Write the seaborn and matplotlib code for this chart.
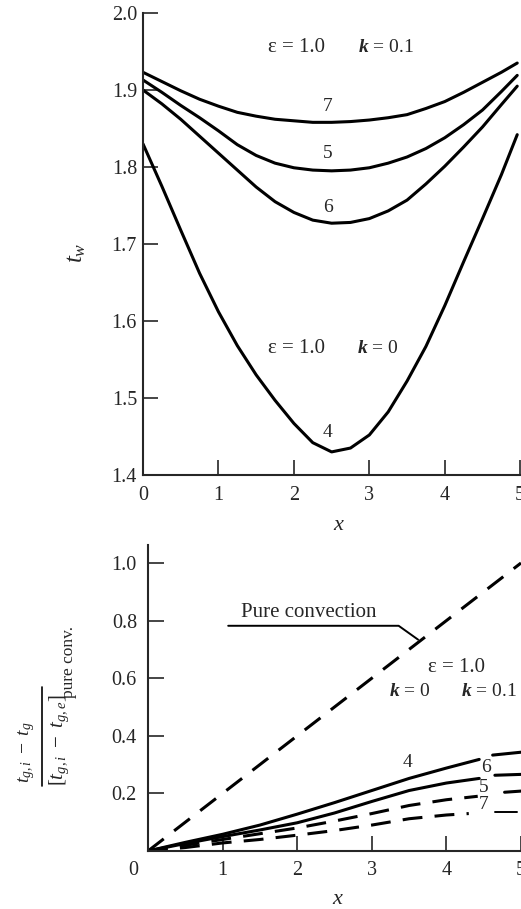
import matplotlib
matplotlib.use("Agg")
import matplotlib.pyplot as plt
import matplotlib.transforms as mtransforms
from matplotlib.lines import Line2D
import seaborn as sns
import pandas as pd

# ---------------- data ----------------
# top panel: wall temperature t_w vs x
x_top = [0, 0.25, 0.5, 0.75, 1.0, 1.25, 1.5, 1.75, 2.0, 2.25, 2.5, 2.75,
         3.0, 3.25, 3.5, 3.75, 4.0, 4.25, 4.5, 4.75, 4.96]
tw_curve4 = [1.830, 1.775, 1.718, 1.662, 1.612, 1.568, 1.530, 1.497, 1.467, 1.442, 1.430, 1.435,
             1.452, 1.482, 1.522, 1.567, 1.620, 1.677, 1.733, 1.790, 1.842]
tw_curve6 = [1.900, 1.882, 1.862, 1.840, 1.818, 1.796, 1.774, 1.755, 1.741, 1.731, 1.727, 1.728,
             1.733, 1.743, 1.757, 1.778, 1.801, 1.826, 1.852, 1.881, 1.905]
tw_curve5 = [1.913, 1.897, 1.880, 1.864, 1.847, 1.829, 1.815, 1.805, 1.799, 1.796, 1.795, 1.796,
             1.799, 1.805, 1.813, 1.824, 1.838, 1.855, 1.874, 1.898, 1.919]
tw_curve7 = [1.923, 1.911, 1.899, 1.888, 1.879, 1.871, 1.866, 1.862, 1.860, 1.858, 1.858, 1.859,
             1.861, 1.864, 1.868, 1.876, 1.885, 1.897, 1.910, 1.923, 1.935]
top_yticks = [1.4, 1.5, 1.6, 1.7, 1.8, 1.9, 2.0]
top_ylabels = ["1.4", "1.5", "1.6", "1.7", "1.8", "1.9", "2.0"]
x_ticks = [0, 1, 2, 3, 4, 5]
x_ticklabels = ["0", "1", "2", "3", "4", "5"]

# bottom panel: normalised gas temperature vs x
pure_x = [0, 5]
pure_y = [0.0, 1.0]
x_bot_solid = [0, 0.5, 1, 1.5, 2, 2.5, 3, 3.5, 4, 4.44]
r_solid4 = [0, 0.030, 0.058, 0.090, 0.128, 0.168, 0.210, 0.252, 0.288, 0.318]
r_solid5 = [0, 0.026, 0.050, 0.073, 0.098, 0.132, 0.172, 0.210, 0.236, 0.252]
x_bot_dash_a = [0, 0.5, 1, 1.5, 2, 2.5, 3, 3.5, 4, 4.42]
r_dash_upper = [0, 0.020, 0.040, 0.060, 0.080, 0.104, 0.130, 0.158, 0.178, 0.190]
x_bot_dash_b = [0, 0.5, 1, 1.5, 2, 2.5, 3, 3.5, 4, 4.3]
r_dash_lower = [0, 0.012, 0.028, 0.040, 0.055, 0.071, 0.090, 0.112, 0.125, 0.130]
# short right-hand pieces (k = 0.1)
seg6_x, seg6_y = [4.62, 5.0], [0.333, 0.343]
seg5_x, seg5_y = [4.65, 5.0], [0.263, 0.266]
seg7a_x, seg7a_y = [4.78, 5.0], [0.204, 0.208]
seg7b_x, seg7b_y = [4.65, 4.95], [0.135, 0.135]
bot_yticks = [0.2, 0.4, 0.6, 0.8, 1.0]
bot_ylabels = ["0.2", "0.4", "0.6", "0.8", "1.0"]
leader_x = [1.075, 3.36, 3.62]
leader_y = [0.782, 0.782, 0.734]

# ---------------- style ----------------
sns.set_theme(style="ticks")
plt.rcParams["font.family"] = ["Liberation Serif", "DejaVu Serif"]
plt.rcParams["mathtext.fontset"] = "custom"
plt.rcParams["mathtext.rm"] = "Liberation Serif"
plt.rcParams["mathtext.it"] = "Liberation Serif:italic"
plt.rcParams["mathtext.bf"] = "Liberation Serif:bold:italic"
plt.rcParams["axes.linewidth"] = 1.5

W, H = 521, 909
fig = plt.figure(figsize=(W / 100, H / 100), dpi=100)
fig.patch.set_facecolor("white")

ax1 = fig.add_axes([143 / W, 1 - 475 / H, (W - 143) / W, 462 / H])
ax2 = fig.add_axes([148 / W, 1 - 851 / H, (W - 148) / W, 306 / H])

LW = 2.2
TICKFS = 14.5

# ---------------- top panel ----------------
n = len(x_top)
top_df = pd.DataFrame({"x": x_top * 4,
                       "tw": tw_curve4 + tw_curve6 + tw_curve5 + tw_curve7,
                       "curve": ["4"] * n + ["6"] * n + ["5"] * n + ["7"] * n})
sns.lineplot(data=top_df, x="x", y="tw", units="curve", estimator=None,
             color="black", lw=LW, sort=False, ax=ax1)
ax1.set_xlim(0, 5.01)
ax1.set_ylim(1.4, 2.0)
ax1.set_yticks(top_yticks)
ax1.set_yticklabels(top_ylabels)
ax1.set_xticks(x_ticks)
ax1.set_xticklabels(x_ticklabels)
ax1.tick_params(axis="y", direction="in", length=11, width=1.2, labelsize=TICKFS, pad=4.3)
ax1.tick_params(axis="x", direction="in", length=11, width=1.2, labelsize=TICKFS, pad=8)
sns.despine(ax=ax1)
ax1.set_xlabel("$x$", fontsize=16)
ax1.xaxis.set_label_coords((339 - 143) / (W - 143), (475 - 525) / 462)
ax1.xaxis.label.set_va("center")
ax1.set_ylabel("$t_w$", fontsize=18)
ax1.yaxis.set_label_coords((77 - 143) / (W - 143), (475 - 253) / 462)
ax1.yaxis.label.set_va("center")

TXT = 14
EPS = 15
ax1.text(1.66, 1.955, "ε = 1.0", fontsize=EPS, va="center", ha="left")
ax1.text(2.85, 1.955, r"$\mathbf{k}$ = 0.1", fontsize=TXT, va="center", ha="left")
ax1.text(1.66, 1.564, "ε = 1.0", fontsize=EPS, va="center", ha="left")
ax1.text(2.84, 1.564, r"$\mathbf{k}$ = 0", fontsize=TXT, va="center", ha="left")
for lab, yy in [("7", 1.878), ("5", 1.818), ("6", 1.748), ("4", 1.455)]:
    ax1.text(2.45, yy, lab, fontsize=TXT, va="center", ha="center")

# ---------------- bottom panel ----------------
dash_long = (0, (6.5, 4.3))
sns.lineplot(x=pure_x, y=pure_y, color="black", lw=LW, ax=ax2, linestyle=dash_long)
sns.lineplot(x=x_bot_solid, y=r_solid4, color="black", lw=LW, ax=ax2)
sns.lineplot(x=x_bot_solid, y=r_solid5, color="black", lw=LW, ax=ax2)
sns.lineplot(x=x_bot_dash_a, y=r_dash_upper, color="black", lw=LW, ax=ax2, linestyle=(0, (6.5, 4.0)))
sns.lineplot(x=x_bot_dash_b, y=r_dash_lower, color="black", lw=LW, ax=ax2, linestyle=(0, (6.5, 4.0)))
sns.lineplot(x=seg6_x, y=seg6_y, color="black", lw=LW, ax=ax2)
sns.lineplot(x=seg5_x, y=seg5_y, color="black", lw=LW, ax=ax2)
sns.lineplot(x=seg7a_x, y=seg7a_y, color="black", lw=LW, ax=ax2)
sns.lineplot(x=seg7b_x, y=seg7b_y, color="black", lw=1.4, ax=ax2)
ax2.plot(leader_x, leader_y, color="black", lw=1.4)

ax2.set_xlim(0, 5.0)
ax2.set_ylim(0, 1.0625)
ax2.set_yticks(bot_yticks)
ax2.set_yticklabels(bot_ylabels)
ax2.set_xticks(x_ticks)
ax2.set_xticklabels(x_ticklabels)
ax2.tick_params(axis="y", direction="in", length=11.5, width=1.2, labelsize=TICKFS, pad=8)
ax2.tick_params(axis="x", direction="in", length=11, width=1.2, labelsize=TICKFS, pad=7)
sns.despine(ax=ax2)
off = mtransforms.ScaledTranslation(-15 / 100, 0, fig.dpi_scale_trans)
lab0 = ax2.get_xticklabels()[0]
lab0.set_transform(lab0.get_transform() + off)
ax2.set_xlabel("$x$", fontsize=16)
ax2.xaxis.set_label_coords((338 - 148) / (W - 148), (851 - 900) / 306)
ax2.xaxis.label.set_va("center")

ax2.text(2.15, 0.827, "Pure convection", fontsize=15, va="center", ha="center")
ax2.text(3.76, 0.637, "ε = 1.0", fontsize=EPS, va="center", ha="left")
ax2.text(3.23, 0.554, r"$\mathbf{k}$ = 0", fontsize=TXT, va="center", ha="left")
ax2.text(4.19, 0.554, r"$\mathbf{k}$ = 0.1", fontsize=TXT, va="center", ha="left")
for lab, xx, yy in [("4", 3.48, 0.308), ("6", 4.53, 0.291), ("5", 4.50, 0.221), ("7", 4.50, 0.163)]:
    ax2.text(xx, yy, lab, fontsize=TXT, va="center", ha="center")

# composite y label of bottom panel (fraction)
fig.text(27 / W, 1 - 752 / H, r"$t_{g,i}\ -\ t_g$", rotation=90, fontsize=14,
         ha="center", va="center")
fig.add_artist(Line2D([42 / W, 42 / W], [1 - 786 / H, 1 - 687 / H],
                      transform=fig.transFigure, color="black", lw=1.2))
fig.text(59 / W, 1 - 786 / H, r"$[t_{g,i}\ -\ t_{g,e}]$", rotation=90,
         fontsize=15, ha="center", va="bottom")
fig.text(69 / W, 1 - 698 / H, "pure conv.", rotation=90,
         fontsize=12.5, ha="center", va="bottom")

fig.savefig("out.png", dpi=100, facecolor="white")
